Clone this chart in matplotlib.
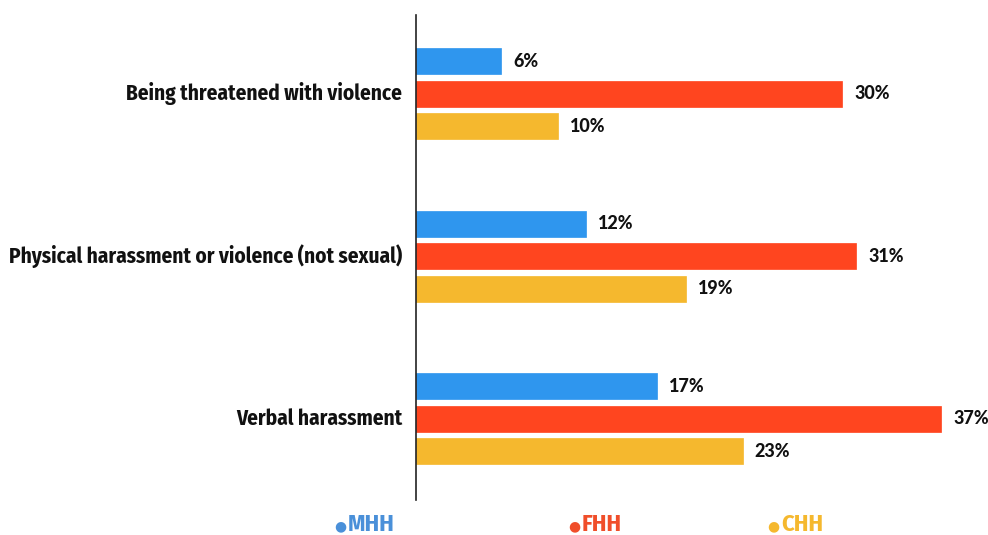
import matplotlib
matplotlib.use("Agg")
import matplotlib.pyplot as plt
import numpy as np

categories = ["Being threatened with violence",
              "Physical harassment or violence (not sexual)",
              "Verbal harassment"]
series_names = ["MHH", "FHH", "CHH"]
mhh = [6, 12, 17]
fhh = [30, 31, 37]
chh = [10, 19, 23]

bar_colors = ["#2f96ee", "#ff451f", "#f5b82e"]
legend_colors = ["#4a90d9", "#f04e2a", "#f5b82e"]

cond = ["Fira Sans Condensed", "Roboto Condensed", "PT Sans Narrow", "Liberation Sans Narrow", "DejaVu Sans"]
cat_font = dict(family=cond, weight="bold")
val_font = dict(family=["Lato", "DejaVu Sans"], weight="black")

fig = plt.figure(figsize=(9.88, 5.35), dpi=100)
ax = fig.add_axes([416/988, 35/535, 568/988, 485/535])

y = np.arange(len(categories))
offsets = [-0.2, 0.0, 0.2]
h = 0.16
for vals, off, col in zip([mhh, fhh, chh], offsets, bar_colors):
    bars = ax.barh(y + off, vals, height=h, color=col, edgecolor=col, linewidth=0.5)
    for b, v in zip(bars, vals):
        ax.text(v + 0.85, b.get_y() + b.get_height()/2, f"{v}%",
                va="center", ha="left", fontsize=13, color="#111111", **val_font)

ax.set_xlim(0, 40)
ax.set_ylim(2.5, -0.485)
ax.set_yticks(y)
ax.set_yticklabels(categories, fontsize=15.3, color="#111111", va="center", **cat_font)
ax.tick_params(axis="y", length=0, pad=10)
ax.set_xticks([])
for s in ["top", "right", "bottom"]:
    ax.spines[s].set_visible(False)
ax.spines["left"].set_color("#222222")
ax.spines["left"].set_linewidth(1.2)

leg_x = [340/988, 574/988, 773/988]
for name, col, lx in zip(series_names, legend_colors, leg_x):
    fig.text(lx, 1 - 526/535, "\u25CF", color=col, fontsize=10, ha="center", va="center",
             family="DejaVu Sans")
    fig.text(lx + 8/988, 1 - 524/535, name, color=col, fontsize=17.5, ha="left", va="center",
             **cat_font)

fig.savefig("out.png", dpi=100)
